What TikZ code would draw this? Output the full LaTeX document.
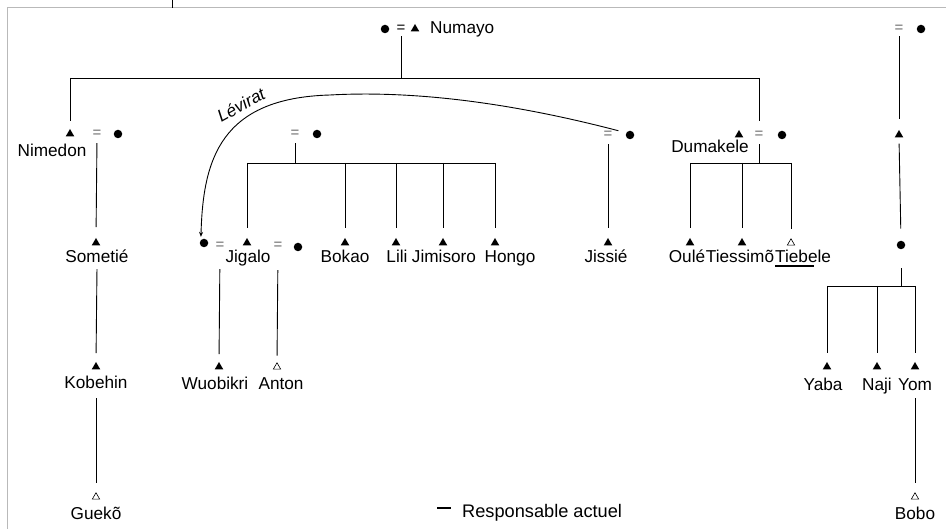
\documentclass[tikz,border=0pt]{standalone}
\usepackage{fontspec}
\setmainfont{Liberation Sans}
\usetikzlibrary{shapes.geometric,arrows.meta}
\begin{document}
\begin{tikzpicture}[x=1pt,y=-1pt,
  kin/.style={line width=0.9pt},
  tri/.style={regular polygon,regular polygon sides=3,fill=black,minimum size=10pt,inner sep=0pt},
  otri/.style={regular polygon,regular polygon sides=3,draw=black,line width=0.6pt,fill=white,minimum size=8.5pt,inner sep=0pt},
  dot/.style={circle,fill=black,minimum size=8.5pt,inner sep=0pt},
  eqs/.style={minimum size=8pt,inner sep=0pt,text=gray!85!black,font=\fontsize{15}{15}\selectfont},
  lbl/.style={anchor=base,inner sep=0pt,text height=12pt,text depth=4pt,font=\fontsize{17.2}{20}\selectfont},
  frame/.style={draw=gray!55,line width=1pt}]
\useasboundingbox (0,0) rectangle (946,529);
% frame
\coordinate (fa) at (7,529); \coordinate (fb) at (7,8); \coordinate (fc) at (946,8);
\draw[frame] (fa) -- (fb) -- (fc);
\coordinate (ta) at (172,0); \coordinate (tb) at (172,8);
\draw[kin] (ta) -- (tb);

% top couple
\node[dot] (numW) at (385,29) {};
\node[eqs,text=black] (numEq) at (401,29) {=};
\node[tri] (numT) at (415,29) {};
\node[lbl,anchor=base west] (numL) at (430,34) {Numayo};
\node[eqs] (rEq) at (899,29) {=};
\node[dot] (rW) at (921,29) {};

% row 2
\node[tri] (nimT) at (70,134) {};
\node[eqs] (nimEq) at (97,134) {=};
\node[dot] (nimW) at (118,134) {};
\node[lbl] (nimL) at (52,157) {Nimedon};
\node[eqs] (jpEq) at (295,134) {=};
\node[dot] (jpW) at (317,134) {};
\node[eqs] (jsEq) at (608,135) {=};
\node[dot] (jsW) at (630,135) {};
\node[tri] (dumT) at (739,135) {};
\node[eqs] (dumEq) at (759,135) {=};
\node[dot] (dumW) at (782,135) {};
\node[lbl] (dumL) at (710,153) {Dumakele};
\node[tri] (rT) at (899,135) {};

% row 3
\node[tri] (somT) at (96,243) {};
\node[lbl] (somL) at (97,263) {Sometié};
\node[dot] (jw1) at (204,243) {};
\node[eqs] (jEq1) at (220,246) {=};
\node[tri] (jigT) at (247,243) {};
\node[lbl] (jigL) at (248,263) {Jigalo};
\node[eqs] (jEq2) at (278,246) {=};
\node[dot] (jw2) at (298,247) {};
\node[tri] (bokT) at (345,243) {};
\node[lbl] (bokL) at (345,263) {Bokao};
\node[tri] (liliT) at (396,243) {};
\node[lbl] (liliL) at (397,263) {Lili};
\node[tri] (jimT) at (443,243) {};
\node[lbl] (jimL) at (444,263) {Jimisoro};
\node[tri] (honT) at (495,243) {};
\node[lbl] (honL) at (510,263) {Hongo};
\node[tri] (jisT) at (608,243) {};
\node[lbl] (jisL) at (606,263) {Jissié};
\node[tri] (ouT) at (690,243) {};
\node[lbl] (ouL) at (687,263) {Oulé};
\node[tri] (tieT) at (742,243) {};
\node[lbl] (tieL) at (740,263) {Tiessimõ};
\node[otri] (tibT) at (791,243) {};
\node[lbl,anchor=base west] (tibL) at (775,263) {Tiebele};
\node[dot] (rD) at (901,245) {};

% row 4
\node[tri] (kobT) at (96,367) {};
\node[lbl] (kobL) at (96,389) {Kobehin};
\node[tri] (wuoT) at (219,367) {};
\node[lbl] (wuoL) at (215,390) {Wuobikri};
\node[otri] (antT) at (277,367) {};
\node[lbl] (antL) at (281,390) {Anton};
\node[tri] (yabT) at (827,367) {};
\node[lbl] (yabL) at (823,391) {Yaba};
\node[tri] (najT) at (877,367) {};
\node[lbl] (najL) at (877,391) {Naji};
\node[tri] (yomT) at (915,367) {};
\node[lbl] (yomL) at (915,391) {Yom};

% row 5
\node[otri] (gueT) at (96,497) {};
\node[lbl] (gueL) at (96,519) {Guekõ};
\node[otri] (bobT) at (915,497) {};
\node[lbl] (bobL) at (915,519) {Bobo};

% legend
\coordinate (legA) at (437,508); \coordinate (legB) at (451,508);
\draw[line width=2pt] (legA) -- (legB);
\node[lbl,anchor=base west,font=\fontsize{18.2}{20}\selectfont] (legL) at (462,517) {Responsable actuel};

% bars
\coordinate (b1L) at (70,78); \coordinate (b1R) at (759,78); \coordinate (b1) at (401,78);
\coordinate (b2L) at (247,163); \coordinate (b2R) at (496,163);
\coordinate (b3L) at (690,163); \coordinate (b3R) at (791,163);
\coordinate (b4L) at (827,286); \coordinate (b4R) at (915,286);

\draw[kin,shorten <=3pt] (numEq.south) -- (b1);
\draw[kin] (b1L) -- (b1R);
\draw[kin,shorten >=7.5pt] (b1L) -- (nimT.north);
\draw[kin,shorten >=10pt] (b1R) -- (dumEq.north);

\draw[kin,shorten <=5pt,shorten >=10.5pt] (nimEq.south) -- (somT.north);
\draw[kin,shorten <=5pt] (jpEq.south) -- (jpEq |- b2L);
\draw[kin] (b2L) -- (b2R);
\foreach \n in {jigT,bokT,liliT,jimT,honT}
  \draw[kin,shorten >=9.5pt] (\n |- b2L) -- (\n.north);
\draw[kin,shorten <=5pt,shorten >=9.5pt] (jsEq.south) -- (jisT.north);
\draw[kin,shorten <=5pt] (dumEq.south) -- (dumEq |- b3L);
\draw[kin] (b3L) -- (b3R);
\foreach \n in {ouT,tieT,tibT}
  \draw[kin,shorten >=9.5pt] (\n |- b3L) -- (\n.north);

\draw[kin,shorten <=3pt,shorten >=10.5pt] (rEq.south) -- (rT.north);
\draw[kin,shorten <=6pt,shorten >=12pt] (rT.south) -- (rD.north);
\draw[kin,shorten <=19pt] (rD.south) -- (rD |- b4L);
\draw[kin] (b4L) -- (b4R);
\foreach \n in {yabT,najT,yomT}
  \draw[kin,shorten >=8.5pt] (\n |- b4L) -- (\n.north);

\draw[kin,shorten <=2pt,shorten >=8.5pt] (somL.south) -- (kobT.north);
\draw[kin,shorten <=19pt,shorten >=7.5pt] (jEq1.south) -- (wuoT.north);
\draw[kin,shorten <=20pt,shorten >=6.5pt] (jEq2.south) -- (antT.north);
\draw[kin,shorten <=5pt,shorten >=9.5pt] (kobL.south) -- (gueT.north);
\draw[kin,shorten <=3pt,shorten >=9.5pt] (yomL.south) -- (bobT.north);

% underline (current responsible)
\draw[line width=2pt] ([yshift=-3pt]tibL.base west) -- ++(39,0);

% Levirat
\draw[kin,-{Stealth[length=5pt,width=4pt]},shorten <=8pt,shorten >=3pt]
  (jsW.150) .. controls (520,105) and (420,90) .. (330,95)
  .. controls (220,98) and (203,160) .. (jw1.north west);
\node[font=\fontsize{17.2}{20}\selectfont\itshape,rotate=29,inner sep=0pt] (lev) at (241,105) {Lévirat};
\end{tikzpicture}
\end{document}
